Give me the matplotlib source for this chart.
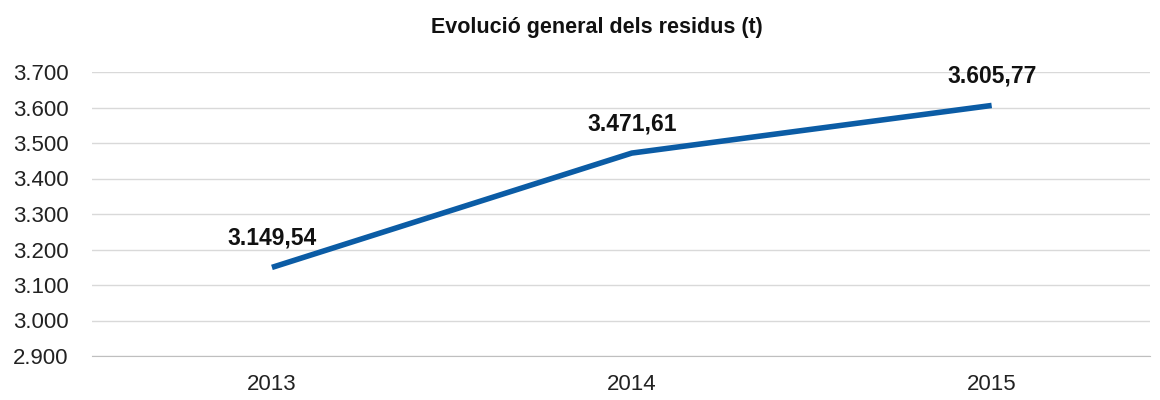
import matplotlib.pyplot as plt

years = ["2013", "2014", "2015"]
values = [3149.54, 3471.61, 3605.77]
labels = ["3.149,54", "3.471,61", "3.605,77"]
yticks = [2900, 3000, 3100, 3200, 3300, 3400, 3500, 3600, 3700]

plt.rcParams['font.family'] = ['Liberation Sans', 'DejaVu Sans']

fig = plt.figure(figsize=(11.6, 4), dpi=100)
ax = fig.add_axes([92 / 1160, 1 - 356 / 400, (1150 - 92) / 1160, (356 - 72) / 400])

x = range(len(years))
ax.plot(x, values, color='#0B5CA5', linewidth=4, solid_capstyle='butt')

for i, (v, lab) in enumerate(zip(values, labels)):
    ax.annotate(lab, (i, v), xytext=(0, 21), textcoords='offset points',
                ha='center', va='center', fontsize=16.5, fontweight='bold', color='#111111')

ax.set_xlim(-0.5, 2.44)
ax.set_ylim(2900, 3700)
ax.set_yticks(yticks)
ax.set_yticklabels([f"{t:,}".replace(",", ".") for t in yticks])
ax.set_xticks(list(x))
ax.set_xticklabels(years)
ax.tick_params(axis='both', length=0, labelsize=16, colors='#222222')
ax.tick_params(axis='y', pad=17)
ax.tick_params(axis='x', pad=13)

ax.grid(axis='y', color='#D9D9D9', linewidth=1)
ax.set_axisbelow(True)
for s in ['top', 'right', 'left']:
    ax.spines[s].set_visible(False)
ax.spines['bottom'].set_color('#BFBFBF')

fig.text(597 / 1160, 1 - 28 / 400, "Evolució general dels residus (t)", ha='center', va='center',
         fontsize=15.5, fontweight='bold', color='#111111')

plt.savefig("out.png")
plt.close()
